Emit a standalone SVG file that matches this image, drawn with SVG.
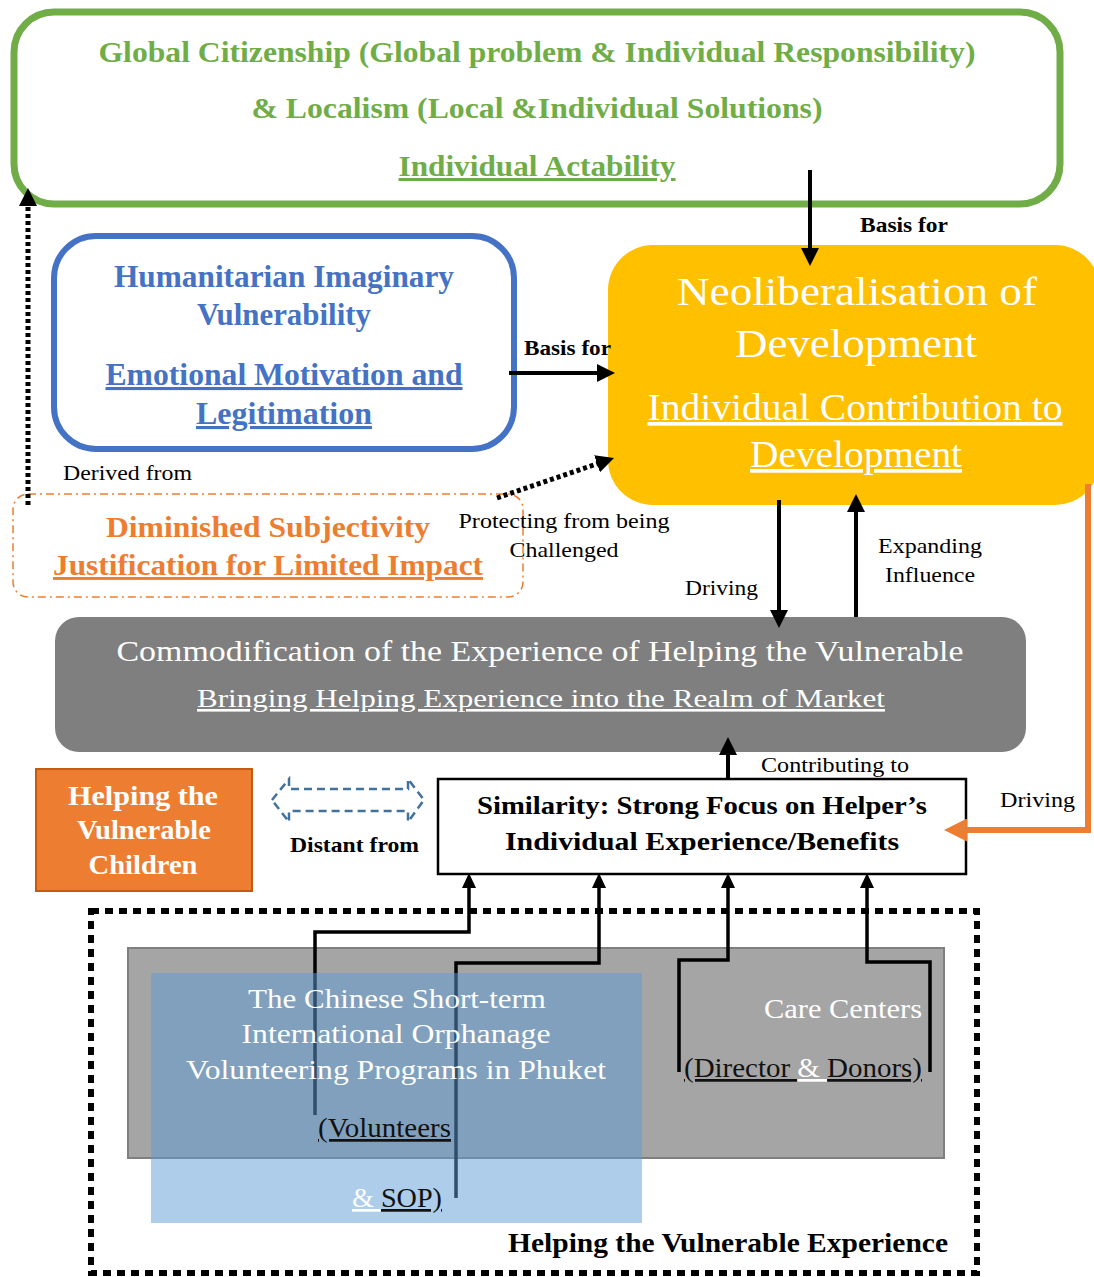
<svg xmlns="http://www.w3.org/2000/svg" width="1094" height="1277" viewBox="0 0 1094 1277" font-family="'Liberation Serif','Times New Roman',serif">
<style>
text{font-family:"Liberation Serif","Times New Roman",serif;}
.b{font-weight:bold;}
.u{text-decoration:underline;}
.lbl{font-size:22px;fill:#000;}
.con{fill:none;stroke:#000;stroke-width:4;}
.dot{fill:none;stroke:#000;stroke-width:5;stroke-dasharray:4 3;}
.bot{fill:none;stroke:#000;stroke-width:3.5;}
</style>
<defs>
<marker id="ah" viewBox="0 0 18 18" refX="4" refY="9" markerWidth="18" markerHeight="18" markerUnits="userSpaceOnUse" orient="auto"><path d="M0,0 L18,9 L0,18 z" fill="#000"/></marker>
<marker id="ahs" viewBox="0 0 15 14" refX="3" refY="7" markerWidth="15" markerHeight="14" markerUnits="userSpaceOnUse" orient="auto"><path d="M0,0 L15,7 L0,14 z" fill="#000"/></marker>
<marker id="aho" viewBox="0 0 23 23" refX="4" refY="11.5" markerWidth="23" markerHeight="23" markerUnits="userSpaceOnUse" orient="auto"><path d="M0,0 L23,11.5 L0,23 z" fill="#ED7D31"/></marker>
</defs>
<rect width="1094" height="1277" fill="#fff"/>

<g id="global-citizenship">
<rect x="14" y="12" width="1046" height="192" rx="40" fill="#fff" stroke="#70AD47" stroke-width="7"/>
<text class="b" x="537" y="62" font-size="30" fill="#70AD47" text-anchor="middle" textLength="877" lengthAdjust="spacingAndGlyphs">Global Citizenship (Global problem &amp; Individual Responsibility)</text>
<text class="b" x="537" y="118" font-size="30" fill="#70AD47" text-anchor="middle" textLength="571" lengthAdjust="spacingAndGlyphs">&amp; Localism (Local &amp;Individual Solutions)</text>
<text class="b u" x="537" y="176" font-size="30" fill="#70AD47" text-anchor="middle" textLength="277" lengthAdjust="spacingAndGlyphs">Individual Actability</text>
</g>

<g id="humanitarian-imaginary">
<rect x="54" y="236" width="460" height="213" rx="42" fill="#fff" stroke="#4472C4" stroke-width="6"/>
<text class="b" x="284" y="287" font-size="31" fill="#4472C4" text-anchor="middle" textLength="340" lengthAdjust="spacingAndGlyphs">Humanitarian Imaginary</text>
<text class="b" x="284" y="325" font-size="31" fill="#4472C4" text-anchor="middle" textLength="174" lengthAdjust="spacingAndGlyphs">Vulnerability</text>
<text class="b u" x="284" y="385" font-size="31" fill="#4472C4" text-anchor="middle" textLength="357" lengthAdjust="spacingAndGlyphs">Emotional Motivation and</text>
<text class="b u" x="284" y="424" font-size="31" fill="#4472C4" text-anchor="middle" textLength="176" lengthAdjust="spacingAndGlyphs">Legitimation</text>
</g>

<g id="neoliberalisation">
<rect x="608" y="245" width="492" height="260" rx="45" fill="#FFC000"/>
<text x="857" y="305" font-size="41" fill="#fff" text-anchor="middle" textLength="360" lengthAdjust="spacingAndGlyphs">Neoliberalisation of</text>
<text x="856" y="357" font-size="41" fill="#fff" text-anchor="middle" textLength="242" lengthAdjust="spacingAndGlyphs">Development</text>
<text class="u" x="855" y="420" font-size="37" fill="#fff" text-anchor="middle" textLength="415" lengthAdjust="spacingAndGlyphs">Individual Contribution to</text>
<text class="u" x="856" y="467" font-size="37" fill="#fff" text-anchor="middle" textLength="212" lengthAdjust="spacingAndGlyphs">Development</text>
</g>

<g id="diminished-subjectivity">
<rect x="13" y="494" width="510" height="103" rx="15" fill="none" stroke="#ED7D31" stroke-width="1.5" stroke-dasharray="8 4 2 4"/>
<text class="b" x="268" y="537" font-size="29" fill="#ED7D31" text-anchor="middle" textLength="324" lengthAdjust="spacingAndGlyphs">Diminished Subjectivity</text>
<text class="b u" x="268" y="575" font-size="29" fill="#ED7D31" text-anchor="middle" textLength="430" lengthAdjust="spacingAndGlyphs">Justification for Limited Impact</text>
</g>

<g id="commodification">
<rect x="55" y="617" width="971" height="135" rx="24" fill="#7F7F7F"/>
<text x="540" y="661" font-size="29" fill="#fff" text-anchor="middle" textLength="847" lengthAdjust="spacingAndGlyphs">Commodification of the Experience of Helping the Vulnerable</text>
<text class="u" x="541" y="707" font-size="26" fill="#fff" text-anchor="middle" textLength="688" lengthAdjust="spacingAndGlyphs">Bringing Helping Experience into the Realm of Market</text>
</g>

<g id="similarity">
<rect x="438" y="779" width="528" height="95" fill="#fff" stroke="#000" stroke-width="2.5"/>
<text class="b" x="702" y="814" font-size="26" fill="#000" text-anchor="middle" textLength="450" lengthAdjust="spacingAndGlyphs">Similarity: Strong Focus on Helper’s</text>
<text class="b" x="702" y="850" font-size="26" fill="#000" text-anchor="middle" textLength="394" lengthAdjust="spacingAndGlyphs">Individual Experience/Benefits</text>
</g>

<g id="helping-vulnerable-children">
<rect x="36" y="769" width="216" height="122" fill="#ED7D31" stroke="#C55A11" stroke-width="2"/>
<text class="b" x="143" y="805" font-size="27" fill="#fff" text-anchor="middle" textLength="150" lengthAdjust="spacingAndGlyphs">Helping the</text>
<text class="b" x="144" y="839" font-size="27" fill="#fff" text-anchor="middle" textLength="134" lengthAdjust="spacingAndGlyphs">Vulnerable</text>
<text class="b" x="143" y="874" font-size="27" fill="#fff" text-anchor="middle" textLength="109" lengthAdjust="spacingAndGlyphs">Children</text>
</g>

<g id="distant-from">
<polygon points="272,800 289,779 289,789 408,789 408,779 424,800 408,822 408,811 289,811 289,822" fill="#fff" stroke="#41719C" stroke-width="2.5" stroke-dasharray="8 5"/>
<text class="b lbl" x="290" y="852" textLength="129" lengthAdjust="spacingAndGlyphs">Distant from</text>
</g>

<g id="helping-experience">
<rect x="91" y="911" width="886" height="362" fill="none" stroke="#000" stroke-width="6" stroke-dasharray="8 6"/>
<rect x="128" y="948" width="816" height="210" fill="#A5A5A5" stroke="#7F7F7F" stroke-width="2"/>
</g>

<g id="connectors">
<path class="con" d="M810,170 V252" marker-end="url(#ah)"/>
<path class="con" d="M509,373 H601" marker-end="url(#ah)"/>
<path class="dot" d="M497,498 L600.8,462.5" stroke-width="6" marker-end="url(#ah)"/>
<path class="dot" d="M28,505 V202" marker-end="url(#ah)"/>
<path class="con" d="M779,500 V614" marker-end="url(#ah)"/>
<path class="con" d="M856,617 V508" marker-end="url(#ah)"/>
<path d="M1088,484 V830 H963" fill="none" stroke="#ED7D31" stroke-width="6" marker-end="url(#aho)"/>
<path class="con" d="M728,780 V751" marker-end="url(#ah)"/>
<path class="bot" d="M315,1115 V932 H469 V885" marker-end="url(#ahs)"/>
<path class="bot" d="M456,1198 V963 H599 V885" marker-end="url(#ahs)"/>
<path class="bot" d="M679,1072 V960 H728 V885" marker-end="url(#ahs)"/>
<path class="bot" d="M930,1072 V962 H867 V885" marker-end="url(#ahs)"/>
<text class="b lbl" x="860" y="232" textLength="88" lengthAdjust="spacingAndGlyphs">Basis for</text>
<text class="b lbl" x="524" y="355" textLength="87" lengthAdjust="spacingAndGlyphs">Basis for</text>
<text class="lbl" x="63" y="480" textLength="129" lengthAdjust="spacingAndGlyphs">Derived from</text>
<text class="lbl" x="564" y="528" text-anchor="middle" textLength="211" lengthAdjust="spacingAndGlyphs">Protecting from being</text>
<text class="lbl" x="564" y="557" text-anchor="middle" textLength="109" lengthAdjust="spacingAndGlyphs">Challenged</text>
<text class="lbl" x="685" y="595" textLength="73" lengthAdjust="spacingAndGlyphs">Driving</text>
<text class="lbl" x="930" y="553" text-anchor="middle" textLength="104" lengthAdjust="spacingAndGlyphs">Expanding</text>
<text class="lbl" x="930" y="582" text-anchor="middle" textLength="90" lengthAdjust="spacingAndGlyphs">Influence</text>
<text class="lbl" x="761" y="772" textLength="148" lengthAdjust="spacingAndGlyphs">Contributing to</text>
<text class="lbl" x="1000" y="807" textLength="75" lengthAdjust="spacingAndGlyphs">Driving</text>
</g>

<g id="chinese-programs">
<rect x="151" y="973" width="491" height="250" fill="#5B9BD5" fill-opacity="0.5"/>
<text x="397" y="1008" font-size="27" fill="#fff" text-anchor="middle" textLength="298" lengthAdjust="spacingAndGlyphs">The Chinese Short-term</text>
<text x="396" y="1043" font-size="27" fill="#fff" text-anchor="middle" textLength="309" lengthAdjust="spacingAndGlyphs">International Orphanage</text>
<text x="396" y="1079" font-size="27" fill="#fff" text-anchor="middle" textLength="420" lengthAdjust="spacingAndGlyphs">Volunteering Programs in Phuket</text>
<text class="u" x="318" y="1137" font-size="27" fill="#111" textLength="133" lengthAdjust="spacingAndGlyphs">(Volunteers</text>
<text x="352" y="1207" font-size="27" textLength="90" lengthAdjust="spacingAndGlyphs"><tspan class="u" fill="#fff">&amp; </tspan><tspan class="u" fill="#111">SOP)</tspan></text>
</g>

<g id="care-centers">
<text x="764" y="1018" font-size="27" fill="#fff" textLength="158" lengthAdjust="spacingAndGlyphs">Care Centers</text>
<text x="684" y="1077" font-size="27" textLength="238" lengthAdjust="spacingAndGlyphs"><tspan class="u" fill="#111">(Director </tspan><tspan class="u" fill="#fff">&amp; </tspan><tspan class="u" fill="#111">Donors)</tspan></text>
</g>

<g id="helping-experience-label">
<text class="b" x="508" y="1252" font-size="27" fill="#000" textLength="440" lengthAdjust="spacingAndGlyphs">Helping the Vulnerable Experience</text>
</g>
</svg>
